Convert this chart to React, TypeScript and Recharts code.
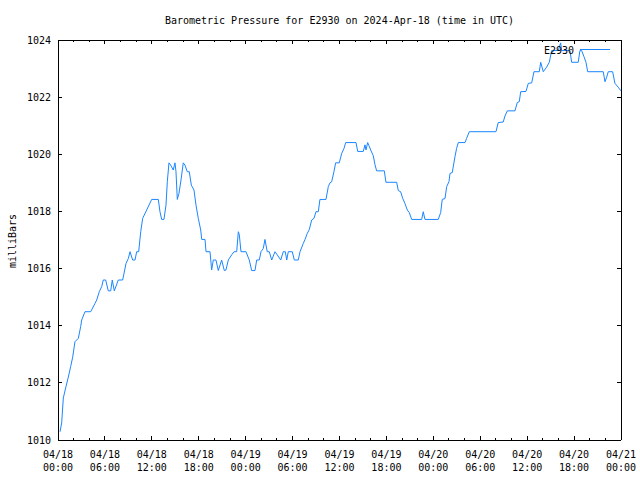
import React from 'react';
import { LineChart, Line, XAxis, YAxis, Legend } from 'recharts';

const TITLE = 'Barometric Pressure for E2930 on 2024-Apr-18 (time in UTC)';
const SERIES_NAME = 'E2930';
const Y_LABEL = 'milliBars';

// hours since 2024-04-18 00:00 UTC
const hours = [
  0.26, 0.47, 0.68, 1.02, 1.32, 1.62, 1.88, 2.17, 2.6, 2.9, 3.03, 3.45, 4.18, 4.73, 4.95, 5.28, 5.59, 5.79,
  6.1, 6.43, 6.74, 6.94, 7.2, 7.71, 8.27, 8.7, 8.99, 9.21, 9.55, 9.85, 10.06, 10.32, 10.58, 10.83, 11.34, 11.98,
  12.83, 13.04, 13.26, 13.55, 13.81, 13.98, 14.19, 14.41, 14.74, 14.96, 15.09, 15.26, 15.47, 15.73, 16.02, 16.24,
  16.53, 16.79, 17.05, 17.39, 17.65, 17.94, 18.25, 18.38, 18.8, 18.93, 19.44, 19.65, 19.86, 20.2, 20.5, 20.93,
  21.27, 21.48, 21.78, 22.21, 22.51, 22.85, 23.06, 23.18, 23.4, 24.04, 24.46, 24.77, 25.19, 25.41, 25.74, 25.96,
  26.25, 26.47, 26.76, 27.02, 27.33, 27.75, 28.04, 28.48, 28.81, 29.07, 29.25, 29.45, 29.96, 30.22, 30.73, 30.95,
  31.37, 31.59, 31.88, 32.14, 32.44, 32.74, 32.99, 33.29, 33.5, 34.27, 34.57, 34.78, 35.0, 35.29, 35.51, 35.97,
  36.28, 36.57, 36.79, 38.11, 38.33, 39.04, 39.26, 39.39, 39.6, 39.77, 39.99, 40.32, 40.54, 40.75, 41.73, 41.94,
  43.31, 43.52, 43.82, 44.08, 44.37, 44.67, 44.92, 45.23, 46.51, 46.71, 46.93, 48.63, 48.94, 49.14, 49.49, 49.71,
  50.0, 50.13, 50.42, 50.77, 50.98, 51.19, 52.05, 52.26, 52.6, 56.01, 56.3, 56.94, 57.16, 57.46, 58.44, 58.73,
  58.99, 59.17, 59.85, 60.14, 60.58, 60.87, 61.55, 61.73, 62.06, 62.49, 62.83, 63.13, 63.98, 64.28, 64.41, 65.47,
  65.69, 66.53, 66.75, 66.97, 67.26, 67.52, 67.74, 69.73, 69.95, 70.17, 70.37, 70.93, 71.23, 71.64, 71.99,
];

const pressure = [
  1010.29, 1010.6, 1011.47, 1011.87, 1012.2, 1012.57, 1012.9, 1013.44, 1013.56, 1013.97, 1014.2, 1014.49, 1014.49, 1014.78, 1014.9, 1015.19, 1015.37, 1015.6,
  1015.6, 1015.22, 1015.22, 1015.6, 1015.22, 1015.6, 1015.6, 1016.18, 1016.35, 1016.59, 1016.3, 1016.3, 1016.59, 1016.59, 1017.29, 1017.76, 1018.05, 1018.42,
  1018.42, 1017.99, 1017.72, 1017.72, 1018.22, 1019.04, 1019.7, 1019.62, 1019.45, 1019.7, 1019.39, 1018.42, 1018.63, 1019.1, 1019.7, 1019.62,
  1019.39, 1019.39, 1018.92, 1018.75, 1018.22, 1017.76, 1017.35, 1017.02, 1017.02, 1016.59, 1016.59, 1015.95, 1016.3, 1016.3, 1015.93, 1016.3,
  1015.93, 1015.95, 1016.3, 1016.48, 1016.59, 1016.59, 1017.29, 1017.2, 1016.59, 1016.59, 1016.3, 1015.93, 1015.93, 1016.3, 1016.3, 1016.59,
  1016.7, 1017.02, 1016.59, 1016.59, 1016.3, 1016.59, 1016.48, 1016.3, 1016.59, 1016.59, 1016.3, 1016.59, 1016.59, 1016.3, 1016.3, 1016.59,
  1016.88, 1017.02, 1017.23, 1017.37, 1017.7, 1017.76, 1017.99, 1017.99, 1018.42, 1018.42, 1018.87, 1019.0, 1019.04, 1019.39, 1019.7, 1019.7,
  1020.03, 1020.2, 1020.41, 1020.41, 1020.1, 1020.1, 1020.33, 1020.15, 1020.41, 1020.3, 1020.15, 1019.95, 1019.63, 1019.42, 1019.42, 1019.02,
  1019.02, 1018.73, 1018.69, 1018.46, 1018.28, 1018.05, 1017.96, 1017.72, 1017.72, 1017.99, 1017.72, 1017.72, 1017.96, 1018.42, 1018.45, 1018.87,
  1019.04, 1019.33, 1019.36, 1019.92, 1020.21, 1020.41, 1020.41, 1020.56, 1020.79, 1020.79, 1021.11, 1021.13, 1021.34, 1021.52, 1021.52, 1021.81,
  1021.84, 1022.19, 1022.2, 1022.48, 1022.5, 1022.89, 1022.89, 1023.22, 1022.89, 1023.05, 1023.22, 1023.63, 1023.63, 1023.9, 1023.63, 1023.63,
  1023.22, 1023.22, 1023.63, 1023.63, 1023.42, 1023.22, 1022.89, 1022.89, 1022.54, 1022.7, 1022.89, 1022.89, 1022.48, 1022.35, 1022.22,
];

const data = hours.map((h, i) => ({ h, p: pressure[i] }));

const majorHours = [0, 6, 12, 18, 24, 30, 36, 42, 48, 54, 60, 66, 72];
const tickDates = ['04/18', '04/18', '04/18', '04/18', '04/19', '04/19', '04/19', '04/19', '04/20', '04/20', '04/20', '04/20', '04/21'];
const tickTimes = ['00:00', '06:00', '12:00', '18:00', '00:00', '06:00', '12:00', '18:00', '00:00', '06:00', '12:00', '18:00', '00:00'];
const minorHours = [0, 2, 4, 6, 8, 10, 12, 14, 16, 18, 20, 22, 24, 26, 28, 30, 32, 34, 36, 38, 40, 42, 44, 46, 48, 50, 52, 54, 56, 58, 60, 62, 64, 66, 68, 70, 72];
const yTicks = [1010, 1012, 1014, 1016, 1018, 1020, 1022, 1024];

const FONT = "'DejaVu Sans Mono', 'Liberation Mono', monospace";
const LINE_COLOR = '#1a86ff';

const BottomTick = (props: any) => {
  const { x, y, payload } = props;
  const idx = majorHours.indexOf(payload.value);
  const major = idx >= 0;
  return (
    <g>
      <line x1={x} x2={x} y1={y} y2={y - (major ? 4 : 2)} stroke="#000" shapeRendering="crispEdges" />
      {major && (
        <text x={x} y={y + 17.5} textAnchor="middle" fontSize={10} fontFamily={FONT} fill="#000">
          {tickDates[idx]}
        </text>
      )}
      {major && (
        <text x={x} y={y + 30.5} textAnchor="middle" fontSize={10} fontFamily={FONT} fill="#000">
          {tickTimes[idx]}
        </text>
      )}
    </g>
  );
};

const TopTick = (props: any) => {
  const { x, y, payload } = props;
  const major = majorHours.indexOf(payload.value) >= 0;
  return <line x1={x} x2={x} y1={y} y2={y + (major ? 4 : 2)} stroke="#000" shapeRendering="crispEdges" />;
};

const LeftTick = (props: any) => {
  const { x, y, payload } = props;
  return (
    <g>
      <line x1={x} x2={x + 4} y1={y} y2={y} stroke="#000" shapeRendering="crispEdges" />
      <text x={x - 7} y={y + 3.5} textAnchor="end" fontSize={10} fontFamily={FONT} fill="#000">
        {payload.value}
      </text>
    </g>
  );
};

const RightTick = (props: any) => {
  const { x, y } = props;
  return <line x1={x} x2={x - 4} y1={y} y2={y} stroke="#000" shapeRendering="crispEdges" />;
};

const TitleLabel = (props: any) => {
  const vb = props.viewBox || { x: 58, width: 563 };
  return (
    <text x={vb.x + vb.width / 2} y={24} textAnchor="middle" fontSize={10} fontFamily={FONT} fill="#000">
      {TITLE}
    </text>
  );
};

const YLabel = (props: any) => {
  const vb = props.viewBox || { y: 40, height: 400 };
  const cx = 12.5;
  const cy = vb.y + vb.height / 2 + 1;
  return (
    <text
      x={cx}
      y={cy}
      transform={`rotate(-90 ${cx} ${cy})`}
      textAnchor="middle"
      dominantBaseline="central"
      fontSize={10}
      fontFamily={FONT}
      fill="#000"
    >
      {Y_LABEL}
    </text>
  );
};

const LegendContent = () => (
  <svg width={80} height={14} style={{ display: 'block' }}>
    <text x={34} y={11.5} textAnchor="end" fontSize={10} fontFamily={FONT} fill="#000">
      {SERIES_NAME}
    </text>
    <line x1={40} x2={70} y1={7.5} y2={7.5} stroke={LINE_COLOR} strokeWidth={1} />
  </svg>
);

export default function App() {
  return (
    <div style={{ position: 'absolute', left: 0, top: 0, width: 640, height: 480, background: '#fff' }}>
      <LineChart width={640} height={480} data={data} margin={{ top: 0, right: 0, bottom: 0, left: 0 }}>
        <XAxis
          xAxisId={0}
          dataKey="h"
          type="number"
          domain={[0, 72]}
          ticks={minorHours}
          interval={0}
          height={40}
          tickSize={0}
          tickMargin={0}
          tickLine={false}
          tick={<BottomTick />}
          axisLine={{ stroke: '#000', shapeRendering: 'crispEdges' }}
          allowDataOverflow
        />
        <XAxis
          xAxisId="top"
          orientation="top"
          dataKey="h"
          type="number"
          domain={[0, 72]}
          ticks={minorHours}
          interval={0}
          height={40}
          tickSize={0}
          tickMargin={0}
          tickLine={false}
          tick={<TopTick />}
          axisLine={{ stroke: '#000', shapeRendering: 'crispEdges' }}
          label={<TitleLabel />}
          allowDataOverflow
        />
        <YAxis
          yAxisId={0}
          type="number"
          domain={[1010, 1024]}
          ticks={yTicks}
          interval={0}
          width={58}
          tickSize={0}
          tickMargin={0}
          tickLine={false}
          tick={<LeftTick />}
          axisLine={{ stroke: '#000', shapeRendering: 'crispEdges' }}
          label={<YLabel />}
          allowDataOverflow
        />
        <YAxis
          yAxisId="right"
          orientation="right"
          type="number"
          domain={[1010, 1024]}
          ticks={yTicks}
          interval={0}
          width={19}
          tickSize={0}
          tickMargin={0}
          tickLine={false}
          tick={<RightTick />}
          axisLine={{ stroke: '#000', shapeRendering: 'crispEdges' }}
          allowDataOverflow
        />
        <Legend
          layout="vertical"
          align="center"
          verticalAlign="middle"
          content={<LegendContent />}
          wrapperStyle={{ position: 'absolute', left: 540, top: 42, width: 80, height: 14, margin: 0, padding: 0 }}
        />
        <Line
          xAxisId="top"
          yAxisId="right"
          dataKey="p"
          stroke="none"
          dot={false}
          activeDot={false}
          legendType="none"
          isAnimationActive={false}
        />
        <Line
          xAxisId={0}
          yAxisId={0}
          type="linear"
          dataKey="p"
          name={SERIES_NAME}
          stroke={LINE_COLOR}
          strokeWidth={1}
          dot={false}
          activeDot={false}
          isAnimationActive={false}
        />
      </LineChart>
    </div>
  );
}
